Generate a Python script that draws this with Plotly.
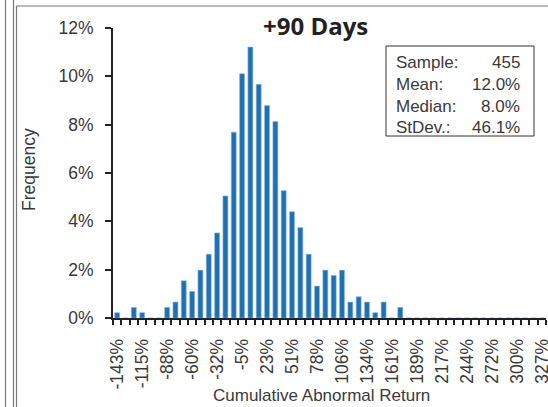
import plotly.graph_objects as go

# ---- data ----
bins = ["-143", "-134", "-125", "-115", "-106", "-97", "-88", "-78", "-69", "-60",
        "-51", "-42", "-32", "-23", "-14", "-5", "4", "13", "23", "32",
        "41", "51", "60", "69", "78", "87", "97", "106", "115", "124",
        "134", "143", "152", "161", "170", "180", "189", "198", "207", "217",
        "226", "235", "244", "254", "263", "272", "281", "290", "300", "309",
        "318", "327"]
freq = [0.22, 0.00, 0.44, 0.22, 0.00, 0.00, 0.44, 0.66, 1.54, 1.10,
        1.98, 2.64, 3.52, 5.05, 7.69, 10.11, 11.21, 9.67, 8.79, 8.13,
        5.27, 4.40, 3.74, 2.64, 1.32, 1.98, 1.76, 1.98, 0.66, 0.88,
        0.66, 0.22, 0.66, 0.00, 0.44, 0.00, 0.00, 0.00, 0.00, 0.00,
        0.00, 0.00, 0.00, 0.00, 0.00, 0.00, 0.00, 0.00, 0.00, 0.00,
        0.00, 0.00]
labelled_bins = ["-143", "-115", "-88", "-60", "-32", "-5", "23", "51", "78", "106",
                 "134", "161", "189", "217", "244", "272", "300", "327"]
stat_names = ["Sample:", "Mean:", "Median:", "StDev.:"]
stat_values = ["455", "12.0%", "8.0%", "46.1%"]
title_text = "+90 Days"

W, H = 548, 407
L, R, T, B = 113, 2, 28, 89
PW, PH = W - L - R, H - T - B

def px(x):
    return (x - L) / PW

def py(y):
    return (H - B - y) / PH

FONT = "Liberation Sans, Arial, sans-serif"
TXT = "#3a3a3a"

fig = go.Figure()
fig.add_trace(go.Bar(
    x=bins, y=freq,
    marker=dict(color="#2070b4", line=dict(color="#8fbbe2", width=0.6)),
))

ticktext = [b + "%" if b in labelled_bins else "" for b in bins]

fig.update_layout(
    width=W, height=H,
    margin=dict(l=L, r=R, t=T, b=B, pad=0),
    paper_bgcolor="white", plot_bgcolor="white",
    showlegend=False,
    bargap=0.4,
    font=dict(family=FONT, size=17, color=TXT),
    xaxis=dict(
        type="category", automargin=False,
        tickson="boundaries",
        tickmode="array", tickvals=bins, ticktext=ticktext,
        tickangle=-90, ticklabelstandoff=12,
        ticks="outside", ticklen=5, tickwidth=2, tickcolor="#222222",
        showline=True, linewidth=2, linecolor="#222222",
        showgrid=False, zeroline=False,
        tickfont=dict(size=17.5, color=TXT),
    ),
    yaxis=dict(
        range=[0, 12], dtick=2, ticksuffix="%", automargin=False,
        ticks="outside", ticklen=6, tickwidth=2, tickcolor="#222222",
        ticklabelstandoff=8,
        showline=True, linewidth=2, linecolor="#222222",
        showgrid=False, zeroline=False,
        tickfont=dict(size=17.5, color=TXT),
    ),
)

# axis titles
fig.add_annotation(xref="paper", yref="paper", x=px(321), y=py(395),
                   text="Cumulative Abnormal Return", showarrow=False,
                   xanchor="center", yanchor="middle",
                   font=dict(size=17, color=TXT))
fig.add_annotation(xref="paper", yref="paper", x=px(29), y=py(170),
                   text="Frequency", showarrow=False, textangle=-90,
                   xanchor="center", yanchor="middle",
                   font=dict(size=17.5, color=TXT))

# title
fig.add_annotation(
    xref="paper", yref="paper", x=px(315), y=py(25),
    text="<b>" + title_text + "</b>", showarrow=False,
    xanchor="center", yanchor="middle",
    font=dict(family="Open Sans, sans-serif", size=24, color="#222222"),
)

# stats box
fig.add_shape(type="rect", xref="paper", yref="paper",
              x0=px(386), x1=px(534), y0=py(46), y1=py(136),
              line=dict(color="#333333", width=1), fillcolor="white")
row_y = [62, 84, 106, 127]
for name, val, yy in zip(stat_names, stat_values, row_y):
    fig.add_annotation(xref="paper", yref="paper", x=px(394), y=py(yy),
                       text=name, showarrow=False, xanchor="left", yanchor="middle",
                       font=dict(size=17, color=TXT))
    fig.add_annotation(xref="paper", yref="paper", x=px(522), y=py(yy),
                       text=val, showarrow=False, xanchor="right", yanchor="middle",
                       font=dict(size=17, color=TXT))

# panel frame lines
frame = "#777777"
for x0, y0, x1, y1 in [(5.5, 0, 5.5, H), (13.5, 0, 13.5, H), (16.5, 6, 16.5, H), (16.5, 6, W, 6)]:
    fig.add_shape(type="line", xref="paper", yref="paper", layer="above",
                  x0=px(x0), x1=px(x1), y0=py(y0), y1=py(y1),
                  line=dict(color=frame, width=1.2))

fig.write_html("out.html", config={"displayModeBar": False},
               post_script="document.body.style.margin='0';document.body.style.overflow='hidden';")
